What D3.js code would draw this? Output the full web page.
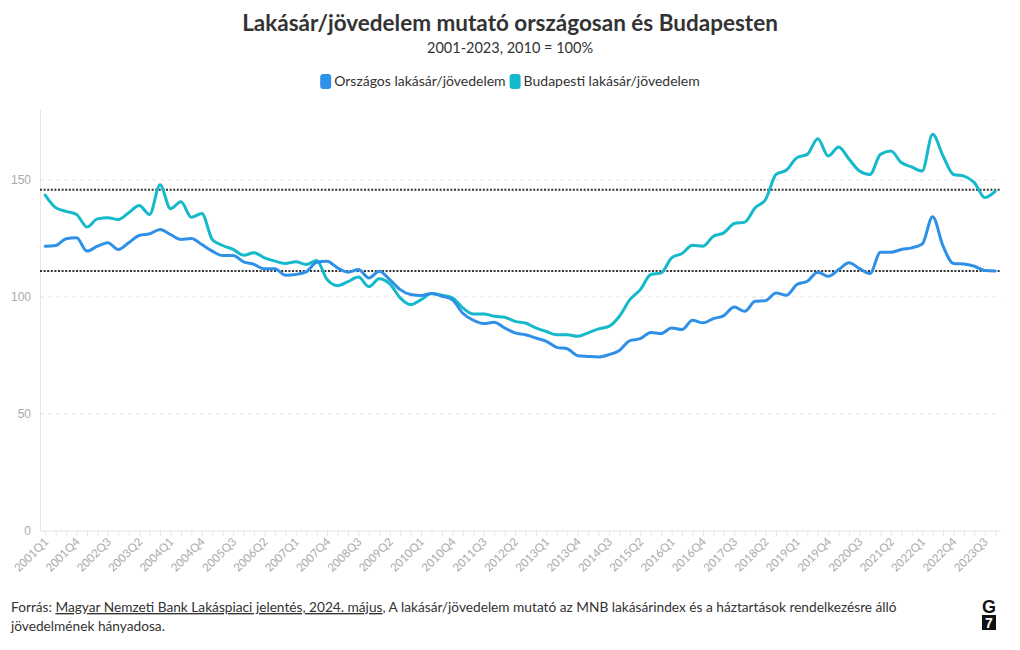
<!DOCTYPE html>
<html>
<head>
<meta charset="utf-8">
<script src="https://cdn.jsdelivr.net/npm/d3@7"></script>
<style>
  html, body { margin: 0; padding: 0; background: #fff; }
  svg { display: block; font-family: "Source Sans Pro", Lato, "Noto Sans", sans-serif; }
</style>
</head>
<body>
<svg id="chart" width="1020" height="650"></svg>
<script>
const years = d3.range(2001, 2024);
const quarters = years.flatMap(y => ["Q1", "Q2", "Q3", "Q4"].map(q => y + q));

const tickLabels = ["2001Q1","2001Q4","2002Q3","2003Q2","2004Q1","2004Q4","2005Q3","2006Q2","2007Q1","2007Q4",
  "2008Q3","2009Q2","2010Q1","2010Q4","2011Q3","2012Q2","2013Q1","2013Q4","2014Q3","2015Q2","2016Q1",
  "2016Q4","2017Q3","2018Q2","2019Q1","2019Q4","2020Q3","2021Q2","2022Q1","2022Q4","2023Q3"];

const yTicks = [0, 50, 100, 150];

const seriesNames = ["Országos lakásár/jövedelem", "Budapesti lakásár/jövedelem"];
const seriesColors = ["#2f90e8", "#14b9cb"];

const national = [
  121.7, 122.0, 124.9, 125.3, 119.6, 121.7, 123.2, 120.3, 123.2, 126.3, 127.0, 128.9,
  126.7, 124.6, 125.0, 122.4, 119.6, 117.7, 117.7, 115.0, 113.9, 112.0, 112.0, 109.3,
  109.6, 110.7, 114.8, 115.3, 112.4, 110.6, 111.7, 108.1, 111.0, 107.4, 103.1, 101.0,
  100.6, 101.4, 100.3, 98.8, 93.0, 90.0, 88.6, 89.1, 86.7, 84.6, 83.8, 82.4,
  81.0, 78.4, 77.8, 74.8, 74.5, 74.3, 75.3, 77.1, 81.3, 82.1, 84.8, 84.3,
  86.7, 86.0, 90.0, 88.9, 90.7, 92.0, 95.7, 93.8, 98.1, 98.4, 101.7, 100.7,
  105.3, 106.7, 110.6, 108.8, 111.7, 114.6, 112.1, 110.0, 119.1, 119.1, 120.3, 121.0,
  122.6, 134.3, 121.7, 114.3, 114.1, 113.1, 111.3, 111.1
];

const budapest = [
  143.6, 138.2, 136.6, 135.3, 129.9, 133.4, 133.9, 133.1, 136.0, 139.1, 135.3, 148.0,
  137.7, 140.7, 134.1, 135.7, 124.6, 122.0, 120.3, 117.8, 118.9, 116.7, 115.3, 114.3,
  115.0, 113.9, 115.6, 107.4, 104.8, 106.5, 108.5, 104.4, 107.8, 105.6, 99.6, 96.7,
  98.8, 101.4, 100.7, 99.6, 95.3, 92.7, 92.7, 91.7, 91.3, 89.5, 88.8, 86.7,
  85.2, 83.8, 83.8, 83.1, 84.6, 86.3, 87.4, 91.7, 98.8, 103.1, 109.6, 110.3,
  116.7, 118.6, 122.1, 121.7, 126.0, 127.4, 131.4, 132.0, 138.2, 141.7, 152.4, 154.3,
  159.6, 161.0, 167.7, 160.3, 164.2, 158.9, 153.9, 152.4, 161.0, 162.4, 157.5, 155.6,
  153.9, 169.6, 160.3, 152.4, 151.7, 148.9, 142.5, 145.3
];

const referenceValues = [111.1, 145.9];

const svg = d3.select("#chart");

const x = d3.scalePoint().domain(quarters).range([40, 1000.5]).padding(0.5);
const y = d3.scaleLinear().domain([0, 180]).range([530.5, 110]);

// Title
svg.append("text").attr("x", 510).attr("y", 31).attr("text-anchor", "middle")
  .attr("font-size", 22.5).attr("font-weight", 700).attr("fill", "#333")
  .text("Lakásár/jövedelem mutató országosan és Budapesten");
svg.append("text").attr("x", 510).attr("y", 53).attr("text-anchor", "middle")
  .attr("font-size", 14.5).attr("fill", "#333")
  .text("2001-2023, 2010 = 100%");

// Legend
const legend = svg.append("g");
const legendItems = legend.selectAll("g").data(seriesNames).join("g");
legendItems.append("rect").attr("width", 11).attr("height", 15).attr("rx", 3).attr("y", 74)
  .attr("fill", (d, i) => seriesColors[i]);
legendItems.append("text").attr("x", 14).attr("y", 86).attr("font-size", 14).attr("fill", "#333")
  .text(d => d);
const widths = [];
legendItems.each(function () { widths.push(this.getBBox().width); });
const totalW = d3.sum(widths) + 4 * (widths.length - 1);
let lx = 510 - totalW / 2;
legendItems.attr("transform", (d, i) => {
  const t = `translate(${lx},0)`;
  lx += widths[i] + 4;
  return t;
});

// Gridlines
svg.append("g").selectAll("line").data(yTicks.filter(d => d > 0)).join("line")
  .attr("x1", 40).attr("x2", 1000.5).attr("y1", d => y(d)).attr("y2", d => y(d))
  .attr("stroke", "#e6e6e6").attr("stroke-dasharray", "4,4");

// Y axis
const yAxis = svg.append("g").attr("transform", "translate(40,0)")
  .call(d3.axisLeft(y).tickValues(yTicks).tickSize(0).tickPadding(9));
yAxis.select(".domain").attr("stroke", "#e6e6e6").attr("d", `M0.5,${y(180)}V${y(0)}`);
yAxis.selectAll("text").attr("fill", "#aaa").attr("font-size", 12).attr("font-family", null);

// X axis (ticks at every quarter, labels every third)
const xAxis = svg.append("g").attr("transform", `translate(0,${y(0)})`)
  .call(d3.axisBottom(x).tickSize(5).tickFormat(""));
xAxis.select(".domain").attr("stroke", "#e6e6e6").attr("d", "M40,0.5H1000.5");
xAxis.selectAll(".tick line").attr("stroke", "#e6e6e6");
xAxis.selectAll(".tick text").remove();

svg.append("g").selectAll("text").data(tickLabels).join("text")
  .attr("x", d => x(d) + 4).attr("y", y(0) + 12)
  .attr("transform", d => `rotate(-45 ${x(d) + 4} ${y(0) + 12})`)
  .attr("text-anchor", "end").attr("font-size", 11.5).attr("fill", "#aaa")
  .style("font-family", "Lato, sans-serif")
  .text(d => d);

// Reference lines
svg.append("g").selectAll("line").data(referenceValues).join("line")
  .attr("x1", 40).attr("x2", 1000.5).attr("y1", d => y(d)).attr("y2", d => y(d))
  .attr("stroke", "#333").attr("stroke-width", 2).attr("stroke-dasharray", "2,1.6");

// Lines
const line = d3.line().x((d, i) => x(quarters[i])).y(d => y(d)).curve(d3.curveMonotoneX);
svg.append("g").selectAll("path").data([budapest, national]).join("path")
  .attr("d", line).attr("fill", "none")
  .attr("stroke", (d, i) => [seriesColors[1], seriesColors[0]][i])
  .attr("stroke-width", 3).attr("stroke-linejoin", "round").attr("stroke-linecap", "round");

// Footer
const foot = svg.append("text").attr("x", 11).attr("y", 612).attr("font-size", 13.7).attr("fill", "#333");
foot.append("tspan").text("Forrás: ");
foot.append("tspan").attr("text-decoration", "underline").text("Magyar Nemzeti Bank Lakáspiaci jelentés, 2024. május");
foot.append("tspan").text(", A lakásár/jövedelem mutató az MNB lakásárindex és a háztartások rendelkezésre álló");
svg.append("text").attr("x", 11).attr("y", 631).attr("font-size", 13.7).attr("fill", "#333")
  .text("jövedelmének hányadosa.");

// Logo
const logo = svg.append("g").attr("transform", "translate(982,598)");
logo.append("text").attr("x", 7).attr("y", 15).attr("text-anchor", "middle").attr("font-size", 18)
  .attr("font-weight", 900).attr("font-family", "Liberation Sans, Arial, sans-serif").attr("fill", "#111").text("G");
logo.append("rect").attr("x", 0).attr("y", 17).attr("width", 14).attr("height", 15).attr("fill", "#111");
logo.append("text").attr("x", 7).attr("y", 30).attr("text-anchor", "middle").attr("font-size", 14)
  .attr("font-weight", 900).attr("font-family", "Liberation Sans, Arial, sans-serif").attr("fill", "#fff").text("7");
</script>
</body>
</html>
